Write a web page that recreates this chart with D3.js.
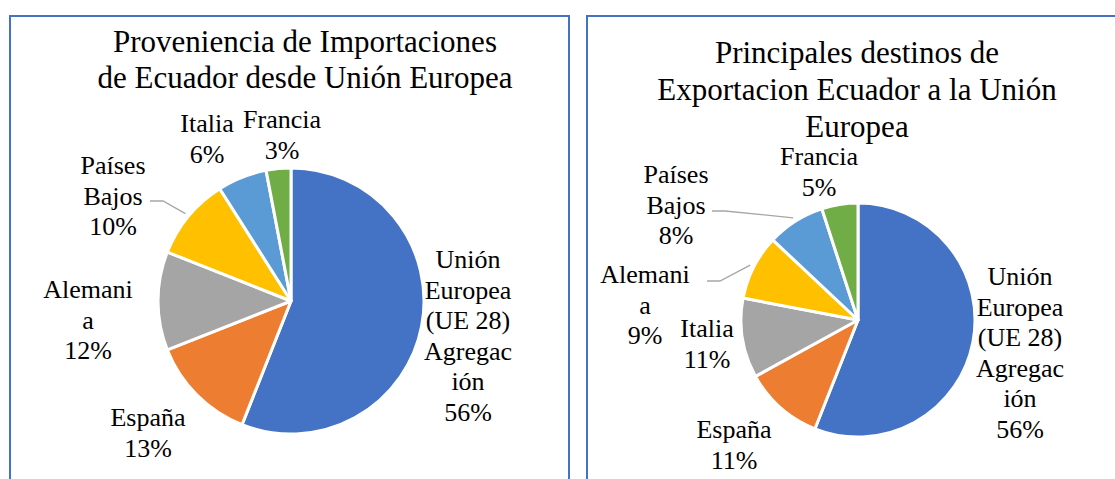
<!DOCTYPE html>
<html><head><meta charset="utf-8">
<script src="https://cdn.jsdelivr.net/npm/d3@7"></script>
<style>
body{margin:0;background:#fff}
#c, #c text{font-family:"Liberation Serif","Times New Roman",Tinos !important;}
</style>
</head><body><svg id="c" width="1115" height="479"></svg>
<script>
// ---- data ----
const importCategories = ["Unión Europea (UE 28) Agregación", "España", "Alemania", "Países Bajos", "Italia", "Francia"];
const importValues = [56, 13, 12, 10, 6, 3];
const exportCategories = ["Unión Europea (UE 28) Agregación", "España", "Italia", "Alemania", "Países Bajos", "Francia"];
const exportValues = [56, 11, 11, 9, 8, 5];
const importLabelLines = [["Unión", "Europea", "(UE 28)", "Agregac", "ión"], ["España"], ["Alemani", "a"], ["Países", "Bajos"], ["Italia"], ["Francia"]];
const exportLabelLines = [["Unión", "Europea", "(UE 28)", "Agregac", "ión"], ["España"], ["Italia"], ["Alemani", "a"], ["Países", "Bajos"], ["Francia"]];
const importTitle = ["Proveniencia de Importaciones", "de Ecuador desde Unión Europea"];
const exportTitle = ["Principales destinos de", "Exportacion Ecuador a la Unión", "Europea"];

// ---- styles / layout ----
const sliceColors = ["#4472C4", "#ED7D31", "#A5A5A5", "#FFC000", "#5B9BD5", "#70AD47"];
const FONT = '"Liberation Serif", "Times New Roman", Tinos';
const charts = [
  {
    cats: importCategories, vals: importValues, lines: importLabelLines, title: importTitle,
    box: {x: 10, y: 16, w: 559, h: 520},
    titleX: 305, titleY: 52, titleStep: 36,
    cx: 291, cy: 301, r: 133,
    labels: [[468, 268], [148, 426], [88, 298], [113, 174], [207, 132], [282, 128]],
    leaders: {3: [150, 201]}
  },
  {
    cats: exportCategories, vals: exportValues, lines: exportLabelLines, title: exportTitle,
    box: {x: 587, y: 16, w: 600, h: 520},
    titleX: 857, titleY: 63, titleStep: 37,
    cx: 858, cy: 320, r: 117,
    labels: [[1020, 285], [734, 438], [707, 337], [645, 283], [676, 183], [819, 165]],
    leaders: {3: [707, 281], 4: [712, 211]}
  }
];

const svg = d3.select("#c").style("font-family", FONT, "important");
const lineStep = 30.5;

function addLines(lines, x, y0, step, size) {
  lines.forEach((s, j) => svg.append("text")
    .attr("x", x).attr("y", y0 + j * step)
    .attr("text-anchor", "middle").attr("fill", "#000")
    .attr("font-family", FONT)
    .style("font-family", FONT, "important")
    .style("font-size", size + "px", "important")
    .text(s));
}

charts.forEach(ch => {
  svg.append("rect").attr("x", ch.box.x).attr("y", ch.box.y)
    .attr("width", ch.box.w).attr("height", ch.box.h)
    .attr("fill", "none").attr("stroke", "#4472C4").attr("stroke-width", 2);

  addLines(ch.title, ch.titleX, ch.titleY, ch.titleStep, 31);

  const total = d3.sum(ch.vals);
  const pie = d3.pie().sort(null).value(d => d)(ch.vals);
  const arc = d3.arc().innerRadius(0).outerRadius(ch.r);
  const g = svg.append("g").attr("transform", `translate(${ch.cx},${ch.cy})`);
  g.selectAll("path").data(pie).join("path")
    .attr("d", arc)
    .attr("fill", (d, i) => sliceColors[i])
    .attr("stroke", "#fff").attr("stroke-width", 3).attr("stroke-linejoin", "round");

  // leader lines
  Object.keys(ch.leaders).forEach(k => {
    const d = pie[+k];
    const a = (d.startAngle + d.endAngle) / 2;
    const rr = ch.r + 4;
    const ex = ch.cx + rr * Math.sin(a), ey = ch.cy - rr * Math.cos(a);
    const [sx, sy] = ch.leaders[k];
    svg.append("path").attr("d", d3.line()([[sx, sy], [sx + 13, sy], [ex, ey]]))
      .attr("fill", "none").attr("stroke", "#A6A6A6").attr("stroke-width", 1.3);
  });

  // data labels
  pie.forEach((d, i) => {
    const [lx, ly] = ch.labels[i];
    const lines = ch.lines[i].concat([Math.round(d.value / total * 100) + "%"]);
    addLines(lines, lx, ly, lineStep, 26);
  });
});
</script>
</body></html>
